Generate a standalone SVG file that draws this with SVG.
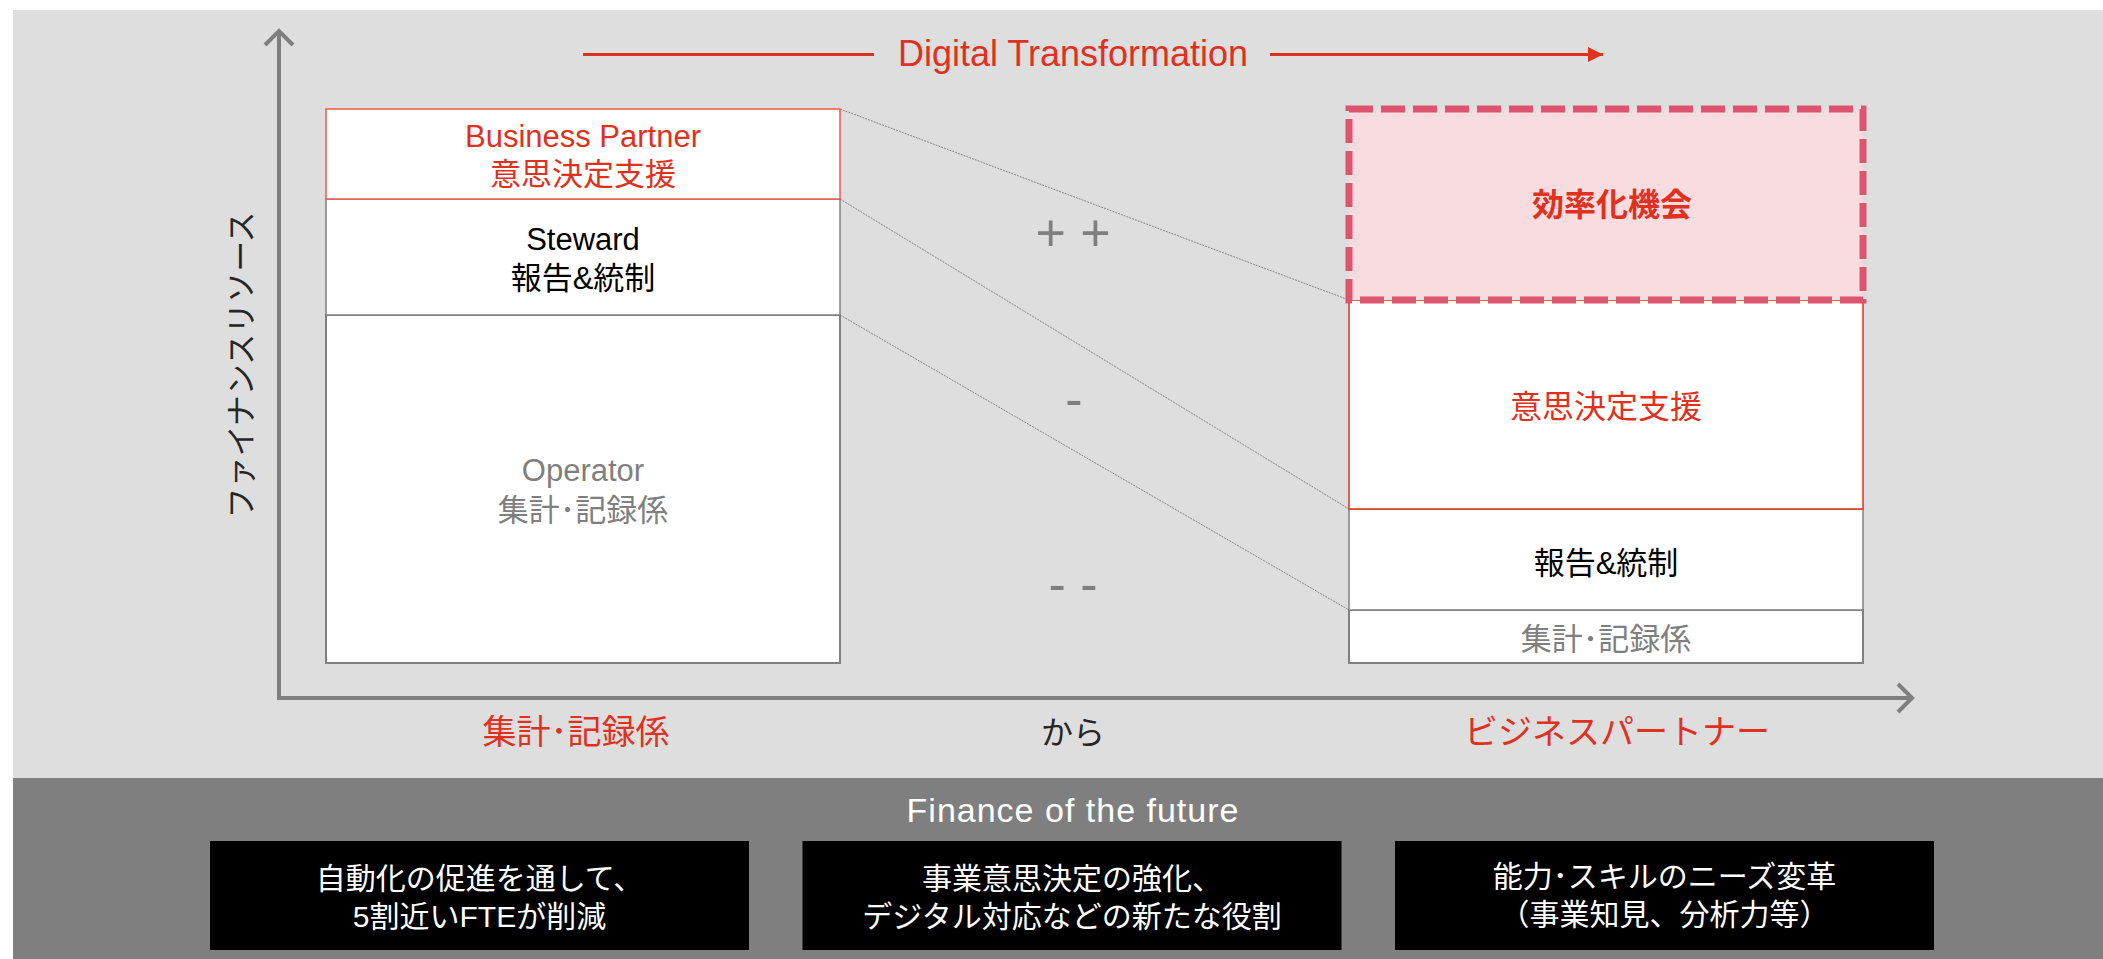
<svg xmlns="http://www.w3.org/2000/svg" width="2103" height="959" viewBox="0 0 2103 959">
<defs>
<style>
.t{font-family:"Liberation Sans","Noto Sans CJK JP",sans-serif;text-anchor:middle}
.red{fill:#e0301e}
.gry{fill:#7f7f7f}
.blk{fill:#000}
.wht{fill:#fff}
.box{fill:#fff;stroke:#808080;stroke-width:1.5}
.axis{stroke:#7f7f7f;stroke-width:4;fill:none}
.conn{stroke:#858585;stroke-width:1;stroke-dasharray:2 1;fill:none}
.dark{fill:#000}
</style>
<marker id="dtArrow" markerWidth="16" markerHeight="16" refX="15" refY="8" orient="auto" markerUnits="userSpaceOnUse">
<path d="M0,0.5 L15,8 L0,15.5 Z" fill="#e0301e"/>
</marker>
</defs>
<rect x="0" y="0" width="2103" height="959" fill="#fff"/>
<rect x="13" y="10" width="2090" height="768" fill="#dedede"/>
<rect x="13" y="778" width="2090" height="181" fill="#7f7f7f"/>

<g id="axes">
<line class="axis" x1="279" y1="698" x2="279" y2="32"/>
<polyline class="axis" points="265,45 279,31 293,45"/>
<line class="axis" x1="277" y1="698" x2="1910" y2="698"/>
<polyline class="axis" points="1898,684 1912,698 1898,712"/>
<text class="t" font-size="31" fill="#262626" transform="translate(252,365) rotate(-90)">ファイナンスリソース</text>
</g>

<g id="dt-arrow">
<line x1="583" y1="54.5" x2="874" y2="54.5" stroke="#e0301e" stroke-width="3"/>
<line x1="1270" y1="54.5" x2="1603" y2="54.5" stroke="#e0301e" stroke-width="3" marker-end="url(#dtArrow)"/>
<text class="t red" x="1073" y="65.5" font-size="36">Digital Transformation</text>
</g>

<g id="connectors">
<line class="conn" x1="840" y1="109" x2="1349" y2="300"/>
<line class="conn" x1="840" y1="199" x2="1349" y2="509"/>
<line class="conn" x1="840" y1="315" x2="1349" y2="610"/>
</g>

<g id="left-operator">
<rect class="box" x="326" y="315" width="514" height="348" style="stroke-width:2"/>
<text class="t gry" x="583" y="481" font-size="31">Operator</text>
<text class="t gry" x="583" y="521" font-size="31">集計･記録係</text>
</g>
<g id="left-steward">
<rect class="box" x="326" y="199" width="514" height="116"/>
<text class="t blk" x="583" y="250" font-size="31">Steward</text>
<text class="t blk" x="583" y="289" font-size="31">報告&amp;統制</text>
</g>
<g id="left-business-partner">
<rect x="326" y="109" width="514" height="90" fill="#fff" stroke="#eb5a4b" stroke-width="1.5"/>
<text class="t red" x="583" y="147" font-size="31">Business Partner</text>
<text class="t red" x="583" y="185" font-size="31">意思決定支援</text>
</g>

<g id="right-record">
<rect class="box" x="1349" y="610" width="514" height="53" style="stroke-width:2"/>
<text class="t gry" x="1606" y="650" font-size="31">集計･記録係</text>
</g>
<g id="right-report">
<rect class="box" x="1349" y="509" width="514" height="101"/>
<text class="t blk" x="1606" y="574" font-size="31">報告&amp;統制</text>
</g>
<g id="right-decision">
<rect x="1349" y="300" width="514" height="209" fill="#fff" stroke="#e0301e" stroke-width="1.5"/>
<text class="t red" x="1606" y="418" font-size="32">意思決定支援</text>
</g>
<g id="right-efficiency">
<rect x="1349" y="109" width="514" height="191" fill="#f8dce0" stroke="#dd546e" stroke-width="7" stroke-dasharray="24 8"/>
<text class="t red" x="1612" y="216" font-size="32" font-weight="bold">効率化機会</text>
</g>

<g id="deltas">
<text class="t gry" x="1073" y="251" font-size="52">+ +</text>
<text class="t gry" x="1074" y="417" font-size="52">-</text>
<text class="t gry" x="1073" y="602" font-size="52">- -</text>
</g>

<g id="axis-labels">
<text class="t red" x="576" y="744" font-size="34">集計･記録係</text>
<text class="t" x="1073" y="744" font-size="32" fill="#262626">から</text>
<text class="t red" x="1617" y="744" font-size="34">ビジネスパートナー</text>
</g>

<g id="finance-title">
<text class="t wht" x="1073" y="821.5" font-size="34" letter-spacing="1">Finance of the future</text>
</g>
<g id="box-automation">
<rect class="dark" x="210" y="841" width="539" height="109"/>
<text class="t wht" x="479.5" y="888.5" font-size="30">自動化の促進を通して、</text>
<text class="t wht" x="479.5" y="926.5" font-size="30">5割近いFTEが削減</text>
</g>
<g id="box-decision">
<rect class="dark" x="802.5" y="841" width="539" height="109"/>
<text class="t wht" x="1072" y="888.5" font-size="30">事業意思決定の強化、</text>
<text class="t wht" x="1072" y="926.5" font-size="30">デジタル対応などの新たな役割</text>
</g>
<g id="box-skills">
<rect class="dark" x="1395" y="841" width="539" height="109"/>
<text class="t wht" x="1664.5" y="887" font-size="30">能力･スキルのニーズ変革</text>
<text class="t wht" x="1664.5" y="925" font-size="30">（事業知見、分析力等）</text>
</g>
</svg>
